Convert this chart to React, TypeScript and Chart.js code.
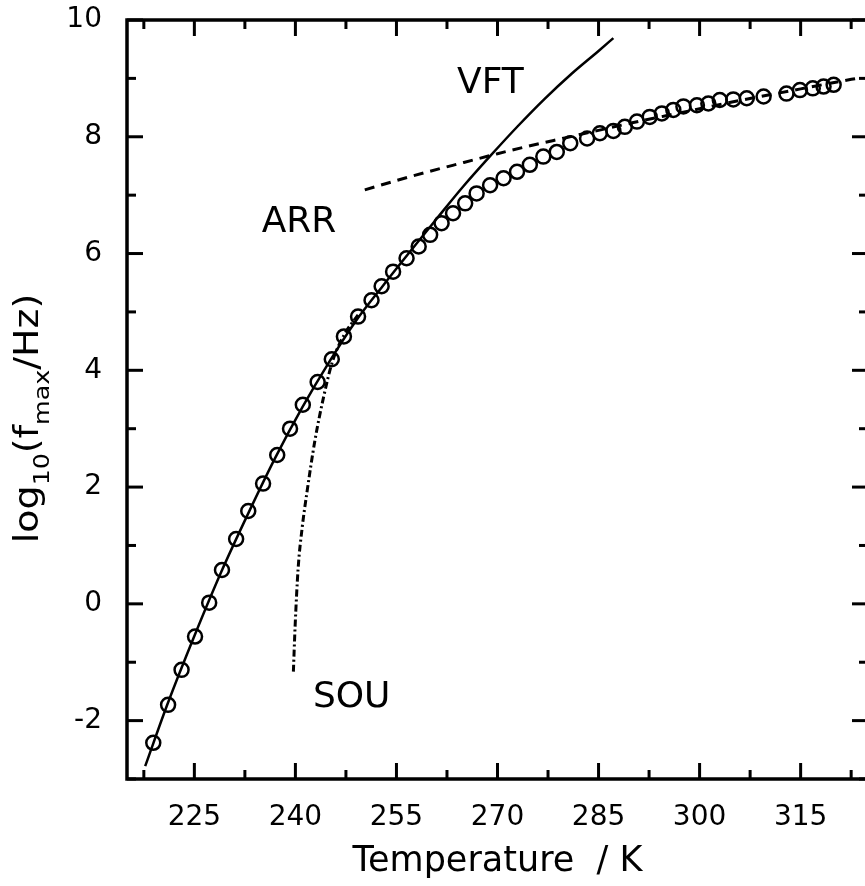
import React, { useEffect, useRef } from 'react';
import { Chart, registerables } from 'chart.js';

Chart.register(...registerables);

// ---- data ----
const tempK = [218.9, 221.1, 223.1, 225.1, 227.2, 229.1, 231.2, 233.0, 235.2, 237.3, 239.2, 241.1, 243.3, 245.4, 247.2, 249.3, 251.3, 252.8, 254.5, 256.5, 258.3, 260.0, 261.7, 263.4, 265.2, 266.9, 268.9, 270.9, 272.9, 274.8, 276.8, 278.8, 280.8, 283.3, 285.2, 287.2, 288.9, 290.7, 292.6, 294.4, 296.1, 297.6, 299.6, 301.3, 303.0, 305.0, 307.0, 309.5, 312.9, 314.9, 316.8, 318.4, 319.9];
const logFmax = [-2.38, -1.73, -1.13, -0.56, 0.02, 0.58, 1.11, 1.59, 2.06, 2.55, 3.0, 3.41, 3.8, 4.19, 4.58, 4.92, 5.2, 5.44, 5.69, 5.92, 6.12, 6.32, 6.52, 6.69, 6.86, 7.03, 7.17, 7.29, 7.4, 7.52, 7.66, 7.74, 7.89, 7.97, 8.06, 8.1, 8.17, 8.26, 8.34, 8.4, 8.46, 8.52, 8.54, 8.57, 8.63, 8.64, 8.66, 8.69, 8.74, 8.8, 8.83, 8.86, 8.89];

const vftT = [217.7, 221, 225, 229, 233, 237, 241, 245, 249, 253, 257, 261, 265, 269, 273, 277, 281, 285, 287.2];
const vftLogF = [-2.78, -1.72, -0.55, 0.55, 1.55, 2.5, 3.36, 4.14, 4.85, 5.45, 6.03, 6.6, 7.16, 7.68, 8.18, 8.65, 9.08, 9.47, 9.69];

const arrT = [250.3, 255, 260, 265, 270, 275, 280, 285, 290, 295, 300, 305, 310, 315, 320, 323.8];
const arrLogF = [7.09, 7.25, 7.41, 7.56, 7.71, 7.85, 7.98, 8.11, 8.24, 8.36, 8.48, 8.6, 8.71, 8.82, 8.93, 9.01];

const souT = [239.7, 239.95, 240.4, 241.0, 241.7, 242.9, 244.2, 245.5, 247.2, 249.3];
const souLogF = [-1.16, -0.4, 0.6, 1.3, 1.9, 2.8, 3.55, 4.15, 4.6, 4.95];

const xMajorTicks = [225, 240, 255, 270, 285, 300, 315];
const xMinorTicks = [217.5, 232.5, 247.5, 262.5, 277.5, 292.5, 307.5, 322.5];
const yMajorTicks = [-2, 0, 2, 4, 6, 8, 10];
const yMinorTicks = [-3, -1, 1, 3, 5, 7, 9];

const labelTexts = ['VFT', 'ARR', 'SOU'];
const labelT = [264.0, 235.0, 242.6];
const labelLogF = [8.75, 6.37, -1.77];

const xTitle = 'Temperature  / K';

const FONT = "'DejaVu Sans', sans-serif";

const toPoints = (xs: number[], ys: number[]) => xs.map((x, i) => ({ x, y: ys[i] }));

const framePlugin = {
  id: 'frameTicks',
  afterDatasetsDraw(chart: any) {
    const { ctx, chartArea: a, scales } = chart;
    const xs = scales.x;
    const ys = scales.y;
    ctx.save();
    ctx.strokeStyle = '#000';
    ctx.lineCap = 'butt';
    ctx.lineWidth = 3;
    const seg = (x1: number, y1: number, x2: number, y2: number) => {
      ctx.beginPath();
      ctx.moveTo(x1, y1);
      ctx.lineTo(x2, y2);
      ctx.stroke();
    };
    xMajorTicks.forEach((v) => {
      const p = xs.getPixelForValue(v);
      seg(p, a.bottom, p, a.bottom - 16);
      seg(p, a.top, p, a.top + 16);
    });
    xMinorTicks.forEach((v) => {
      const p = xs.getPixelForValue(v);
      seg(p, a.bottom, p, a.bottom - 9);
      seg(p, a.top, p, a.top + 9);
    });
    yMajorTicks.forEach((v) => {
      const p = ys.getPixelForValue(v);
      seg(a.left, p, a.left + 16, p);
      seg(a.right, p, a.right - 16, p);
    });
    yMinorTicks.forEach((v) => {
      const p = ys.getPixelForValue(v);
      seg(a.left, p, a.left + 9, p);
      seg(a.right, p, a.right - 9, p);
    });
    ctx.lineWidth = 3.5;
    ctx.strokeRect(a.left, a.top, a.right - a.left, a.bottom - a.top);

    // curve labels
    ctx.fillStyle = '#000';
    ctx.font = `36px ${FONT}`;
    ctx.textAlign = 'left';
    ctx.textBaseline = 'alphabetic';
    labelTexts.forEach((t, i) => {
      ctx.fillText(t, xs.getPixelForValue(labelT[i]), ys.getPixelForValue(labelLogF[i]));
    });
    ctx.restore();
  },
  afterDraw(chart: any) {
    const { ctx, chartArea: a } = chart;
    // y-axis title with subscripts
    const parts = [
      { t: 'log', s: 33, dy: 0 },
      { t: '10', s: 22, dy: 11 },
      { t: '(f', s: 33, dy: 0 },
      { t: 'max', s: 22, dy: 11 },
      { t: '/Hz)', s: 33, dy: 0 },
    ];
    ctx.save();
    ctx.fillStyle = '#000';
    ctx.textBaseline = 'alphabetic';
    ctx.textAlign = 'left';
    let total = 0;
    const widths = parts.map((p) => {
      ctx.font = `${p.s}px ${FONT}`;
      const w = ctx.measureText(p.t).width;
      total += w;
      return w;
    });
    const stretch = 1.15;
    const cy = (a.top + a.bottom) / 2 + 19;
    ctx.translate(38, cy);
    ctx.rotate(-Math.PI / 2);
    ctx.scale(stretch, 1);
    let x = -total / 2;
    parts.forEach((p, i) => {
      ctx.font = `${p.s}px ${FONT}`;
      ctx.fillText(p.t, x, p.dy);
      x += widths[i];
    });
    ctx.restore();
  },
};

export default function App() {
  const ref = useRef<HTMLCanvasElement | null>(null);

  useEffect(() => {
    if (!ref.current) return;
    Chart.defaults.font.family = FONT;
    Chart.defaults.color = '#000';
    const chart = new Chart(ref.current, {
      type: 'scatter',
      data: {
        datasets: [
          {
            label: 'VFT',
            data: toPoints(vftT, vftLogF),
            showLine: true,
            borderColor: '#000',
            borderWidth: 2.5,
            pointRadius: 0,
            cubicInterpolationMode: 'monotone',
          },
          {
            label: 'ARR',
            data: toPoints(arrT, arrLogF),
            showLine: true,
            borderColor: '#000',
            borderWidth: 3,
            borderDash: [10, 7],
            pointRadius: 0,
            cubicInterpolationMode: 'monotone',
          },
          {
            label: 'SOU',
            data: toPoints(souT, souLogF),
            showLine: true,
            borderColor: '#000',
            borderWidth: 3,
            borderDash: [7, 3, 2, 3],
            pointRadius: 0,
            cubicInterpolationMode: 'monotone',
          },
          {
            label: 'data',
            data: toPoints(tempK, logFmax),
            showLine: false,
            pointRadius: 7,
            pointBorderWidth: 2.5,
            pointBorderColor: '#000',
            pointBackgroundColor: 'rgba(0,0,0,0)',
          },
        ],
      },
      options: {
        animation: false,
        responsive: false,
        events: [],
        layout: { padding: { top: 20, right: 12, bottom: 0, left: 0 } },
        plugins: {
          legend: { display: false },
          tooltip: { enabled: false },
        },
        scales: {
          x: {
            type: 'linear',
            min: 215,
            max: 325,
            grid: { display: false },
            border: { display: false },
            ticks: {
              font: { size: 28 },
              color: '#000',
              padding: 14,
              maxRotation: 0,
            },
            afterBuildTicks: (s: any) => {
              s.ticks = xMajorTicks.map((v) => ({ value: v }));
            },
            afterFit: (s: any) => {
              s.height = 107;
              s.paddingLeft = 0;
              s.paddingRight = 0;
            },
            title: {
              display: true,
              text: xTitle,
              font: { size: 35 },
              color: '#000',
              padding: { top: 0, bottom: 3 },
            },
          },
          y: {
            type: 'linear',
            min: -3,
            max: 10,
            grid: { display: false },
            border: { display: false },
            ticks: {
              font: { size: 28 },
              color: '#000',
              padding: 17,
            },
            afterBuildTicks: (s: any) => {
              s.ticks = yMajorTicks.map((v) => ({ value: v }));
            },
            afterFit: (s: any) => {
              s.width = 127;
              s.paddingTop = 0;
              s.paddingBottom = 0;
            },
          },
        },
      } as any,
      plugins: [framePlugin],
    });
    return () => chart.destroy();
  }, []);

  return (
    <div
      style={{
        position: 'absolute',
        left: 0,
        top: 0,
        width: 865,
        height: 886,
        overflow: 'hidden',
        background: '#fff',
      }}
    >
      <canvas ref={ref} width={880} height={886} style={{ display: 'block' }} />
    </div>
  );
}
